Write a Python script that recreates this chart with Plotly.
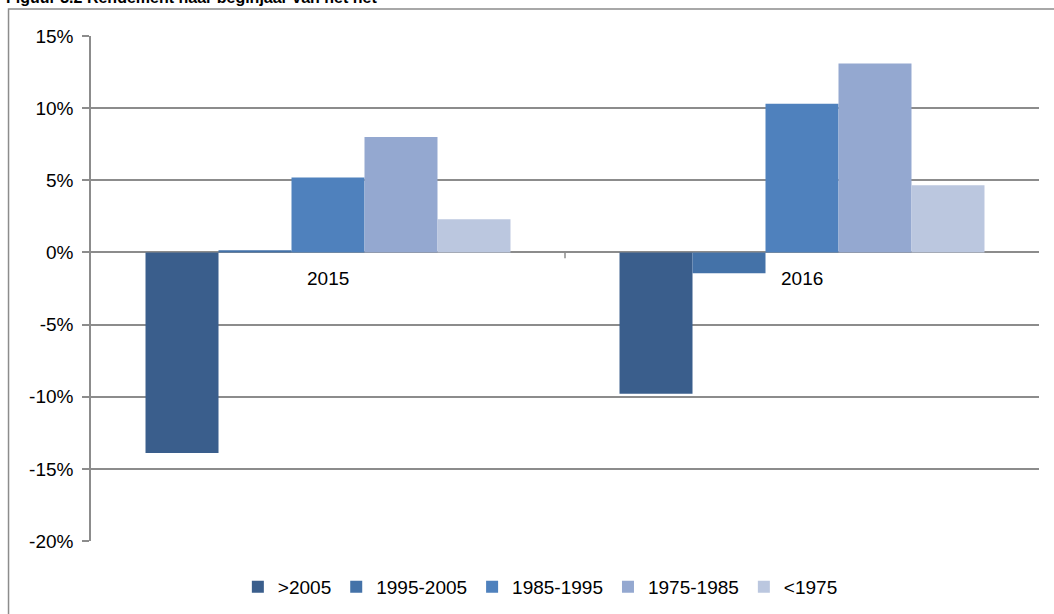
import plotly.graph_objects as go

# Rendement per beginjaar van het net (in %)
jaren = ["2015", "2016"]
series = [">2005", "1995-2005", "1985-1995", "1975-1985", "<1975"]
waarden = {
    ">2005": [-13.9, -9.8],
    "1995-2005": [0.15, -1.45],
    "1985-1995": [5.2, 10.3],
    "1975-1985": [8.0, 13.1],
    "<1975": [2.3, 4.65],
}
kleuren = ["#3A5E8C", "#4472A8", "#4F81BD", "#94A8D0", "#BBC7DF"]
y_ticks = [-20, -15, -10, -5, 0, 5, 10, 15]
y_labels = ["-20%", "-15%", "-10%", "-5%", "0%", "5%", "10%", "15%"]

fig = go.Figure()
for naam, kleur in zip(series, kleuren):
    fig.add_trace(go.Bar(x=jaren, y=waarden[naam], name=naam,
                         marker=dict(color=kleur, line=dict(width=0))))

grijs = "#8C8C8C"
fig.update_layout(
    width=1054, height=614,
    margin=dict(l=91, r=15, t=36, b=73, autoexpand=False),
    paper_bgcolor="white", plot_bgcolor="white",
    font=dict(family="Liberation Sans, Arial, sans-serif", size=19, color="black"),
    barmode="group", bargap=0.23, bargroupgap=0,
    showlegend=True,
    legend=dict(orientation="h", x=0.474, xanchor="center", y=-0.091, yanchor="middle",
                font=dict(size=19), traceorder="normal"),
    xaxis=dict(type="category", range=[-0.5, len(jaren) - 0.5], showticklabels=False,
               showgrid=False, zeroline=False, showline=False, ticks=""),
    yaxis=dict(range=[-20, 15], tickvals=y_ticks, ticktext=y_labels,
               showgrid=True, gridcolor=grijs, gridwidth=1.5,
               zeroline=True, zerolinecolor=grijs, zerolinewidth=1.5,
               showline=True, linecolor=grijs, linewidth=1.5,
               ticks="outside", ticklen=7, tickcolor=grijs, tickwidth=1.5,
               ticklabelstandoff=5),
)

# categorie-labels op de nul-lijn, zoals in het origineel
for i, jaar in enumerate(jaren):
    fig.add_annotation(x=i, y=0, xref="x", yref="y", text=jaar, showarrow=False,
                       yshift=-26, font=dict(size=19))

# streepje tussen de categorieën
fig.add_shape(type="line", xref="x", yref="y", x0=0.5, x1=0.5, y0=0, y1=-0.4,
              line=dict(color=grijs, width=1.5))

# kader en (afgesneden) titel
fig.add_shape(type="rect", xref="paper", yref="paper", x0=-0.087, x1=1.05, y0=-0.2, y1=1.0535,
              line=dict(color=grijs, width=1.5), layer="below")
fig.add_annotation(text="<b>Figuur 3.2 Rendement naar beginjaar van het net</b>", xref="paper", yref="paper",
                   x=-0.0918, y=1.0772, xanchor="left", yanchor="middle", showarrow=False,
                   font=dict(size=16))

# geen witrand en geen schuifbalken om de pagina
fig.write_html("out.html", config={"displayModeBar": False},
               post_script="document.body.style.margin='0px';"
                           "document.documentElement.style.overflow='hidden';"
                           "document.body.style.overflow='hidden';")
